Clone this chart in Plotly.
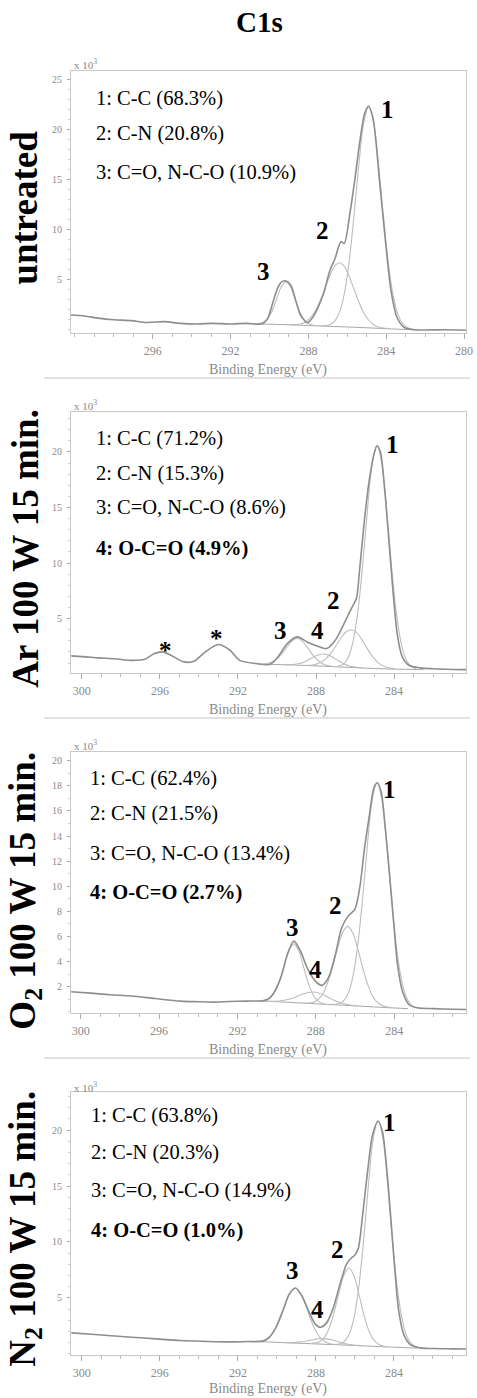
import plotly.graph_objects as go

W, H = 477, 1398

# ---------------- DATA ----------------
# Panel 1 : untreated
p1_env_x = [300.2, 299.5, 298.8, 298.0, 297.1, 296.3, 295.4, 294.6, 293.7, 292.9, 292.0, 291.2, 290.35, 290.09,
            289.84, 289.59, 289.4, 289.2, 288.91, 288.66, 288.41, 288.2, 288.07, 287.9, 287.65, 287.22, 286.89,
            286.63, 286.33, 286.16, 285.87, 285.62, 285.37, 285.11, 284.91, 284.69, 284.52, 284.35, 284.15, 283.96,
            283.76, 283.46, 283.09, 282.58, 282.0, 281.0, 279.9]
p1_env_y = [1.49, 1.40, 1.18, 1.02, 0.93, 0.75, 0.83, 0.66, 0.60, 0.66, 0.60, 0.66, 0.62, 1.16,
            2.65, 4.15, 4.75, 4.90, 4.48, 2.99, 1.49, 0.95, 0.72, 0.95, 1.66, 3.65, 5.97,
            7.13, 8.80, 8.62, 11.6, 14.9, 18.6, 21.56, 22.29, 21.2, 18.6, 14.9, 11.0, 7.3,
            3.98, 1.32, 0.27, 0.02, 0.0, 0.02, -0.02]
p1_bg_x = [291.2, 290.4, 289.0, 288.0, 287.0, 286.0, 285.0, 284.0, 283.0, 282.4]
p1_bg_y = [0.64, 0.60, 0.52, 0.44, 0.37, 0.30, 0.22, 0.13, 0.05, 0.02]
p1_c1_x = [287.4, 287.15, 286.9, 286.65, 286.4, 286.15, 285.9, 285.65, 285.4, 285.15, 284.9, 284.65, 284.4,
           284.15, 283.9, 283.65, 283.4, 283.15, 282.9, 282.65, 282.4]
p1_c1_y = [0.39, 0.41, 0.52, 0.88, 1.78, 3.66, 6.92, 11.5, 16.63, 20.71, 22.29, 20.67, 16.55,
           11.39, 6.77, 3.48, 1.56, 0.62, 0.22, 0.08, 0.03]
p1_c2_x = [288.9, 288.65, 288.4, 288.15, 287.9, 287.65, 287.4, 287.15, 286.9, 286.65, 286.4, 286.15, 285.9,
           285.65, 285.4, 285.15, 284.9, 284.65, 284.4, 284.15, 283.9]
p1_c2_y = [0.51, 0.53, 0.60, 0.80, 1.20, 1.88, 2.89, 4.14, 5.40, 6.36, 6.70, 6.32, 5.33,
           4.03, 2.74, 1.69, 0.97, 0.53, 0.30, 0.20, 0.14]
p1_c3_x = [290.65, 290.4, 290.15, 289.9, 289.65, 289.4, 289.15, 288.9, 288.65, 288.4, 288.15, 287.9, 287.65]
p1_c3_y = [0.63, 0.72, 1.01, 1.75, 2.98, 4.26, 4.81, 4.22, 2.90, 1.63, 0.87, 0.54, 0.43]

# Panel 2 : Ar 100 W 15 min.
p2_env_x = [300.54, 299.8, 299.14, 298.3, 297.46, 296.78, 296.28, 295.86, 295.44, 294.77, 294.26, 293.67,
            293.0, 292.41, 291.91, 291.07, 290.39, 290.15, 289.89, 289.47, 288.96, 288.46, 287.95, 287.45,
            287.03, 286.77, 286.52, 286.36, 286.1, 285.93, 285.77, 285.51, 285.26, 285.0, 284.87, 284.7,
            284.5, 284.3, 284.08, 283.83, 283.58, 283.24, 282.65, 282.0, 281.0, 280.3]
p2_env_y = [1.64, 1.55, 1.46, 1.38, 1.24, 1.33, 1.85, 2.0, 1.7, 1.1, 1.15, 2.0,
            2.66, 2.15, 1.24, 0.95, 0.86, 1.15, 1.7, 2.75, 3.35, 2.9, 2.54, 2.3,
            3.0, 3.8, 4.7, 5.3, 6.2, 6.8, 9.3, 14.0, 17.6, 20.0, 20.56, 20.0,
            17.0, 12.8, 8.0, 3.5, 1.55, 0.8, 0.56, 0.48, 0.42, 0.40]
p2_bg_x = [291.0, 290.0, 289.0, 288.0, 287.0, 286.0, 285.0, 284.0, 283.0, 282.5]
p2_bg_y = [0.90, 0.86, 0.81, 0.74, 0.66, 0.58, 0.50, 0.45, 0.42, 0.40]
p2_c1_x = [286.87, 286.62, 286.37, 286.12, 285.87, 285.62, 285.37, 285.12, 284.87, 284.62, 284.37, 284.12,
           283.87, 283.62, 283.37, 283.12, 282.87]
p2_c1_y = [0.72, 0.87, 1.43, 2.79, 5.44, 9.61, 14.64, 18.90, 20.59, 18.87, 14.58, 9.53,
           5.33, 2.65, 1.26, 0.68, 0.48]
p2_c2_x = [288.45, 288.2, 287.95, 287.7, 287.45, 287.2, 286.95, 286.7, 286.45, 286.2, 285.95, 285.7, 285.45,
           285.2, 284.95, 284.7, 284.45, 284.2, 283.95]
p2_c2_y = [0.80, 0.82, 0.92, 1.11, 1.46, 1.98, 2.64, 3.32, 3.82, 4.00, 3.78, 3.24, 2.52,
           1.82, 1.26, 0.88, 0.66, 0.54, 0.48]
p2_c3_x = [290.71, 290.46, 290.21, 289.96, 289.71, 289.46, 289.21, 288.96, 288.71, 288.46, 288.21, 287.96,
           287.71, 287.46, 287.21]
p2_c3_y = [0.90, 0.96, 1.11, 1.42, 1.91, 2.51, 3.02, 3.21, 2.99, 2.45, 1.83, 1.32,
           0.98, 0.80, 0.71]
p2_c4_x = [289.6, 289.35, 289.1, 288.85, 288.6, 288.35, 288.1, 287.85, 287.6, 287.35, 287.1, 286.85, 286.6,
           286.35, 286.1, 285.85, 285.6]
p2_c4_y = [0.84, 0.86, 0.89, 0.96, 1.10, 1.31, 1.56, 1.75, 1.81, 1.71, 1.48, 1.20, 0.95,
           0.77, 0.66, 0.60, 0.56]

# Panel 3 : O2 100 W 15 min.
p3_env_x = [300.49, 299.5, 298.5, 297.42, 296.2, 294.9, 294.0, 293.22, 292.4, 291.55, 290.71, 290.45, 290.2,
            289.79, 289.45, 289.12, 288.78, 288.44, 288.02, 287.69, 287.36, 287.0, 286.68, 286.35, 286.01,
            285.76, 285.51, 285.26, 285.04, 284.87, 284.67, 284.47, 284.25, 284.03, 283.83, 283.58, 283.25,
            282.83, 282.0, 281.0, 280.3]
p3_env_y = [1.59, 1.48, 1.35, 1.25, 1.05, 0.85, 0.80, 0.77, 0.82, 0.85, 0.88, 1.0, 1.38,
            2.7, 4.56, 5.63, 4.83, 3.5, 2.44, 2.1, 2.7, 4.56, 6.69, 7.62, 8.15,
            9.87, 13.06, 15.71, 17.83, 18.23, 17.57, 14.91, 11.2, 7.22, 3.77, 1.65, 0.58,
            0.32, 0.25, 0.20, 0.18]
p3_bg_x = [291.0, 290.7, 290.0, 289.0, 288.0, 287.0, 286.0, 285.0, 284.0, 283.3]
p3_bg_y = [0.86, 0.85, 0.80, 0.72, 0.63, 0.55, 0.47, 0.38, 0.30, 0.25]
p3_c1_x = [287.12, 286.87, 286.62, 286.37, 286.12, 285.87, 285.62, 285.37, 285.12, 284.87, 284.62, 284.37,
           284.12, 283.87, 283.62, 283.37, 283.12, 282.87, 282.62]
p3_c1_y = [0.58, 0.63, 0.82, 1.38, 2.70, 5.17, 8.87, 13.24, 16.87, 18.27, 16.82, 13.15,
           8.74, 5.00, 2.49, 1.14, 0.55, 0.33, 0.25]
p3_c2_x = [288.62, 288.37, 288.12, 287.87, 287.62, 287.37, 287.12, 286.87, 286.62, 286.37, 286.12, 285.87,
           285.62, 285.37, 285.12, 284.87, 284.62, 284.37, 284.12]
p3_c2_y = [0.67, 0.69, 0.76, 0.99, 1.50, 2.41, 3.71, 5.17, 6.35, 6.80, 6.31, 5.09,
           3.59, 2.26, 1.32, 0.76, 0.49, 0.38, 0.32]
p3_c3_x = [290.87, 290.62, 290.37, 290.12, 289.87, 289.62, 289.37, 289.12, 288.87, 288.62, 288.37, 288.12,
           287.87, 287.62, 287.37]
p3_c3_y = [0.87, 0.90, 1.06, 1.50, 2.38, 3.67, 4.91, 5.41, 4.86, 3.56, 2.23, 1.31,
           0.83, 0.64, 0.58]
p3_c4_x = [290.37, 290.12, 289.87, 289.62, 289.37, 289.12, 288.87, 288.62, 288.37, 288.12, 287.87, 287.62,
           287.37, 287.12, 286.87, 286.62, 286.37, 286.12, 285.87]
p3_c4_y = [0.84, 0.84, 0.86, 0.91, 0.99, 1.11, 1.28, 1.43, 1.54, 1.57, 1.50, 1.35,
           1.16, 0.96, 0.79, 0.66, 0.57, 0.51, 0.47]

# Panel 4 : N2 100 W 15 min.
p4_env_x = [300.54, 299.5, 298.5, 297.46, 296.2, 294.94, 293.7, 292.41, 291.5, 290.73, 290.4, 290.06, 289.64,
            289.38, 289.05, 288.71, 288.37, 288.04, 287.78, 287.45, 287.11, 286.77, 286.44, 286.27, 285.98,
            285.82, 285.6, 285.35, 285.09, 284.81, 284.59, 284.37, 284.16, 283.96, 283.75, 283.49, 283.16,
            282.65, 282.0, 281.0, 280.3]
p4_env_y = [1.88, 1.75, 1.62, 1.49, 1.34, 1.19, 1.12, 1.07, 1.10, 1.13, 1.45, 2.32, 4.1,
            5.3, 5.89, 5.15, 3.81, 2.68, 2.38, 2.77, 4.1, 6.19, 7.97, 8.42, 8.87,
            9.46, 12.44, 16.3, 19.6, 20.78, 19.88, 16.6, 12.14, 7.68, 3.81, 1.72, 0.83,
            0.54, 0.48, 0.45, 0.43]
p4_bg_x = [291.0, 290.7, 290.0, 289.0, 288.0, 287.0, 286.0, 285.0, 284.0, 283.3, 282.8]
p4_bg_y = [1.10, 1.08, 1.03, 0.96, 0.89, 0.82, 0.75, 0.67, 0.60, 0.55, 0.52]
p4_c1_x = [287.06, 286.81, 286.56, 286.31, 286.06, 285.81, 285.56, 285.31, 285.06, 284.81, 284.56, 284.31,
           284.06, 283.81, 283.56, 283.31, 283.06, 282.81, 282.56]
p4_c1_y = [0.84, 0.88, 1.08, 1.69, 3.11, 5.84, 10.02, 15.01, 19.22, 20.86, 19.18, 14.94,
           9.91, 5.70, 2.93, 1.47, 0.84, 0.61, 0.54]
p4_c2_x = [288.31, 288.06, 287.81, 287.56, 287.31, 287.06, 286.81, 286.56, 286.31, 286.06, 285.81, 285.56,
           285.31, 285.06, 284.81, 284.56, 284.31]
p4_c2_y = [0.93, 0.96, 1.09, 1.49, 2.34, 3.75, 5.52, 7.05, 7.67, 7.02, 5.45, 3.64,
           2.19, 1.32, 0.88, 0.71, 0.64]
p4_c3_x = [291.05, 290.8, 290.55, 290.3, 290.05, 289.8, 289.55, 289.3, 289.05, 288.8, 288.55, 288.3,
           288.05, 287.8, 287.55, 287.3, 287.05]
p4_c3_y = [1.12, 1.18, 1.32, 1.67, 2.34, 3.35, 4.52, 5.49, 5.86, 5.46, 4.45, 3.24,
           2.20, 1.49, 1.11, 0.93, 0.84]
p4_c4_x = [289.6, 289.35, 289.1, 288.85, 288.6, 288.35, 288.1, 287.85, 287.6, 287.35, 287.1, 286.85, 286.6,
           286.35, 286.1, 285.85, 285.6]
p4_c4_y = [1.02, 1.01, 1.01, 1.05, 1.11, 1.19, 1.28, 1.35, 1.36, 1.32, 1.21, 1.08, 0.96,
           0.86, 0.80, 0.76, 0.73]

panel_names = ["untreated", "Ar 100 W 15 min.", "O<sub>2</sub> 100 W 15 min.", "N<sub>2</sub> 100 W 15 min."]
legend_lines = [
    ["1: C-C (68.3%)", "2: C-N (20.8%)", "3: C=O, N-C-O (10.9%)"],
    ["1: C-C (71.2%)", "2: C-N (15.3%)", "3: C=O, N-C-O (8.6%)", "<b>4: O-C=O (4.9%)</b>"],
    ["1: C-C (62.4%)", "2: C-N (21.5%)", "3: C=O, N-C-O (13.4%)", "<b>4: O-C=O (2.7%)</b>"],
    ["1: C-C (63.8%)", "2: C-N (20.3%)", "3: C=O, N-C-O (14.9%)", "<b>4: O-C=O (1.0%)</b>"],
]
x_ticks = [[296, 292, 288, 284, 280], [300, 296, 292, 288, 284], [300, 296, 292, 288, 284], [300, 296, 292, 288, 284]]
y_ticks = [[5, 10, 15, 20, 25], [5, 10, 15, 20], [2, 4, 6, 8, 10, 12, 14, 16, 18, 20], [5, 10, 15, 20]]

panels = [
    dict(env=(p1_env_x, p1_env_y), bg=(p1_bg_x, p1_bg_y),
         comps=[(p1_c1_x, p1_c1_y), (p1_c2_x, p1_c2_y), (p1_c3_x, p1_c3_y)]),
    dict(env=(p2_env_x, p2_env_y), bg=(p2_bg_x, p2_bg_y),
         comps=[(p2_c1_x, p2_c1_y), (p2_c2_x, p2_c2_y), (p2_c3_x, p2_c3_y), (p2_c4_x, p2_c4_y)]),
    dict(env=(p3_env_x, p3_env_y), bg=(p3_bg_x, p3_bg_y),
         comps=[(p3_c1_x, p3_c1_y), (p3_c2_x, p3_c2_y), (p3_c3_x, p3_c3_y), (p3_c4_x, p3_c4_y)]),
    dict(env=(p4_env_x, p4_env_y), bg=(p4_bg_x, p4_bg_y),
         comps=[(p4_c1_x, p4_c1_y), (p4_c2_x, p4_c2_y), (p4_c3_x, p4_c3_y), (p4_c4_x, p4_c4_y)]),
]

# ---------------- LAYOUT (pixel geometry) ----------------
SERIF = "Liberation Serif, Times New Roman, serif"
box_left, box_right = 72, 473
box_tb = [(71, 333), (412, 673), (752, 1013), (1092, 1355)]
x_ranges = [[300.2, 279.9], [300.56, 280.31], [300.5, 280.33], [300.56, 280.3]]
y_ranges = [[-0.3, 25.8], [0.1, 23.6], [-0.1, 20.7], [-0.1, 23.4]]
side_label_y = [208, 548, 891, 1229]
legend_x = [95, 95, 89, 90]
legend_y = [[98, 133, 172], [438, 473, 508, 548], [778, 813, 853, 892], [1115, 1152, 1190, 1230]]
peak_labels = [
    [("1", 393, 108), ("2", 327, 228), ("3", 267, 270)],
    [("1", 398, 443), ("2", 338, 598), ("3", 285, 628), ("4", 322, 628), ("*", 168, 648), ("*", 220, 636)],
    [("1", 395, 787), ("2", 340, 903), ("3", 297, 925), ("4", 320, 967)],
    [("1", 395, 1120), ("2", 343, 1247), ("3", 297, 1268), ("4", 322, 1307)],
]
xlabel_y = [370, 710, 1050, 1389]
x103_y = [64, 405, 745, 1087]
separators = [378, 718, 1058]


def pxx(px):
    return px / W


def pyy(py):
    return 1 - py / H


fig = go.Figure()
ENV_COL, COMP_COL, BG_COL = "#8e8e8e", "#bdbdbd", "#a8a8a8"

for i, p in enumerate(panels):
    xa, ya = ("x" if i == 0 else f"x{i+1}"), ("y" if i == 0 else f"y{i+1}")
    fig.add_trace(go.Scatter(x=p["bg"][0], y=p["bg"][1], mode="lines", xaxis=xa, yaxis=ya,
                             line=dict(color=BG_COL, width=1, shape="spline"), hoverinfo="skip"))
    for cx, cy in p["comps"]:
        fig.add_trace(go.Scatter(x=cx, y=cy, mode="lines", xaxis=xa, yaxis=ya,
                                 line=dict(color=COMP_COL, width=1.1, shape="spline", smoothing=1.0),
                                 hoverinfo="skip"))
    fig.add_trace(go.Scatter(x=p["env"][0], y=p["env"][1], mode="lines", xaxis=xa, yaxis=ya,
                             line=dict(color=ENV_COL, width=1.6, shape="spline", smoothing=0.8),
                             hoverinfo="skip"))

layout = dict(width=W, height=H, margin=dict(l=0, r=0, t=0, b=0), paper_bgcolor="white",
              plot_bgcolor="white", showlegend=False, font=dict(family=SERIF))
annotations = []
shapes = []
for i in range(4):
    top, bot = box_tb[i]
    sx = "" if i == 0 else str(i + 1)
    layout["xaxis" + sx] = dict(
        domain=[pxx(box_left), pxx(box_right)], range=x_ranges[i], anchor="y" + sx,
        tickmode="array", tickvals=x_ticks[i], ticks="outside", ticklen=5, tickcolor="#aaaaaa",
        minor=dict(tickmode="linear", tick0=0, dtick=1, ticks="outside", ticklen=3, tickcolor="#bbbbbb"),
        showline=True, linecolor="#c8c8c8", linewidth=1, mirror=True, showgrid=False, zeroline=False,
        tickfont=dict(family=SERIF, size=12, color="#8a8a8a"), ticklabelstandoff=2,
        ticklabeloverflow="allow", fixedrange=True)
    layout["yaxis" + sx] = dict(
        domain=[pyy(bot), pyy(top)], range=y_ranges[i], anchor="x" + sx,
        tickmode="array", tickvals=y_ticks[i], ticks="outside", ticklen=3, tickcolor="#aaaaaa",
        minor=dict(tickmode="linear", tick0=0, dtick=1, ticks="outside", ticklen=2, tickcolor="#cccccc"),
        showline=True, linecolor="#c8c8c8", linewidth=1, mirror=True, showgrid=False, zeroline=False,
        tickfont=dict(family=SERIF, size=10, color="#8a8a8a"), ticklabelstandoff=3, fixedrange=True)

    # side label
    annotations.append(dict(text="<b>" + panel_names[i] + "</b>", x=pxx(25), y=pyy(side_label_y[i]),
                            xref="paper", yref="paper", textangle=-90, showarrow=False,
                            xanchor="center", yanchor="middle",
                            font=dict(family=SERIF, size=37, color="black")))
    # legend text
    for t, ly in zip(legend_lines[i], legend_y[i]):
        annotations.append(dict(text=t, x=pxx(legend_x[i]), y=pyy(ly), xref="paper", yref="paper",
                                showarrow=False, xanchor="left", yanchor="middle",
                                font=dict(family=SERIF, size=20.5, color="black")))
    # peak labels
    for t, lx, ly in peak_labels[i]:
        annotations.append(dict(text="<b>" + t + "</b>", x=pxx(lx), y=pyy(ly + 2), xref="paper", yref="paper",
                                showarrow=False, xanchor="center", yanchor="middle",
                                font=dict(family=SERIF, size=25, color="black")))
    # x axis title
    annotations.append(dict(text="Binding Energy (eV)", x=pxx(272), y=pyy(xlabel_y[i]), xref="paper",
                            yref="paper", showarrow=False, xanchor="center", yanchor="middle",
                            font=dict(family=SERIF, size=14, color="#8a8a8a")))
    # x 10^3
    annotations.append(dict(text="x 10<sup>3</sup>", x=pxx(73), y=pyy(x103_y[i]), xref="paper",
                            yref="paper", showarrow=False, xanchor="left", yanchor="middle",
                            font=dict(family=SERIF, size=11, color="#8a8a8a")))

annotations.append(dict(text="<b>C1s</b>", x=pxx(263), y=pyy(22), xref="paper", yref="paper",
                        showarrow=False, xanchor="center", yanchor="middle",
                        font=dict(family=SERIF, size=29, color="black")))
for sy in separators:
    shapes.append(dict(type="line", xref="paper", yref="paper", x0=pxx(45), x1=1.0, y0=pyy(sy), y1=pyy(sy),
                       line=dict(color="#c4c4c4", width=1)))

layout["annotations"] = annotations
layout["shapes"] = shapes
fig.update_layout(**layout)
fig.write_html("out.html", config={"displayModeBar": False, "staticPlot": True},
               post_script="document.body.style.margin='0px';document.body.style.overflow='hidden';")
